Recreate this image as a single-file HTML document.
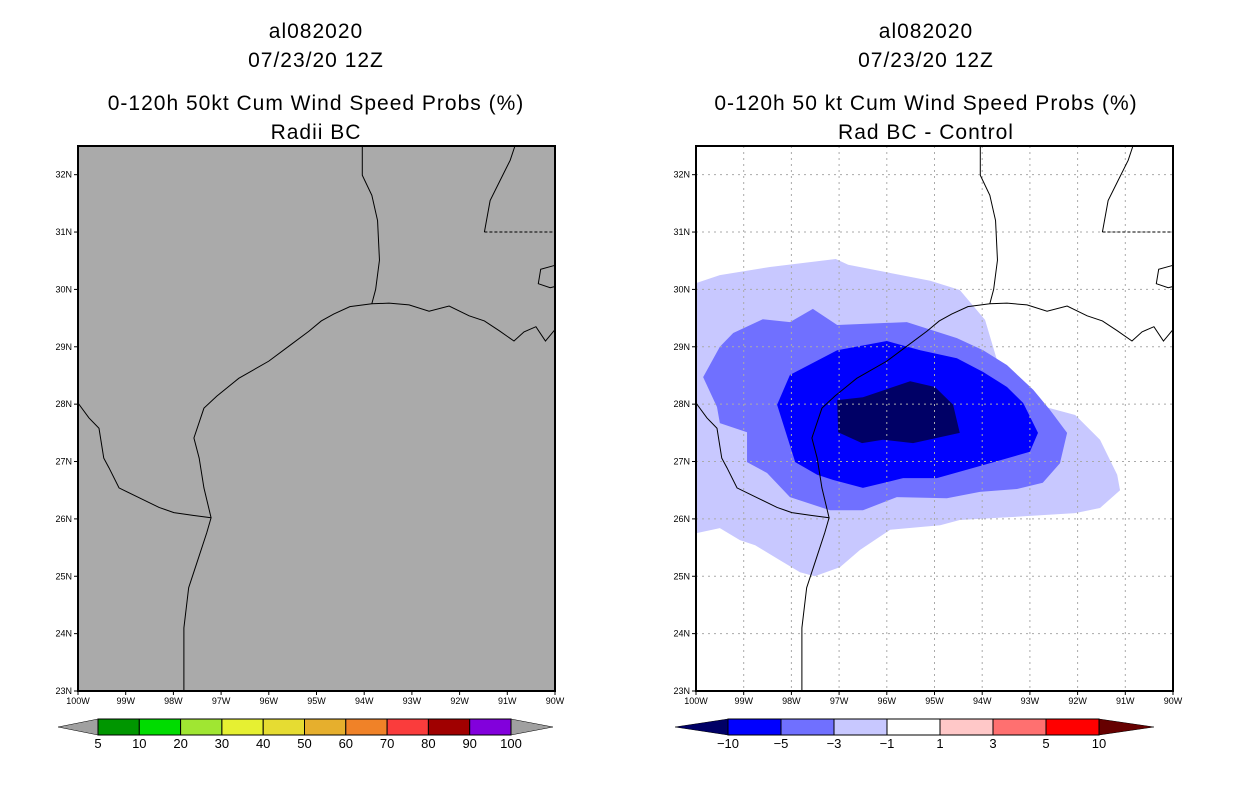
<!DOCTYPE html>
<html><head><meta charset="utf-8"><style>
html,body{margin:0;padding:0;background:#fff;width:1236px;height:800px;overflow:hidden}
svg{display:block}
text{font-family:"Liberation Sans",sans-serif;fill:#000}
.t{font-size:21px;text-anchor:middle;letter-spacing:1px}
.ax{font-size:9px}
.cb{font-size:13px;text-anchor:middle}
</style></head><body>
<svg id="fig" width="1236" height="800" viewBox="0 0 1236 800">
<g>
<text class="t" x="316" y="38">al082020</text>
<text class="t" x="316" y="67">07/23/20 12Z</text>
<text class="t" x="316" y="110">0-120h 50kt Cum Wind Speed Probs (%)</text>
<text class="t" x="316" y="139">Radii BC</text>
</g>
<g>
<text class="t" x="926" y="38">al082020</text>
<text class="t" x="926" y="67">07/23/20 12Z</text>
<text class="t" x="926" y="110">0-120h 50 kt Cum Wind Speed Probs (%)</text>
<text class="t" x="926" y="139">Rad BC - Control</text>
</g>
<g id="left"></g>
<g id="right"></g>
<g id="cbl"></g>
<g id="cbr"></g>
</svg>
<script>
// ---- data ----
const lonTicks=[-100,-99,-98,-97,-96,-95,-94,-93,-92,-91,-90];
const latTicks=[23,24,25,26,27,28,29,30,31,32];
// difference contour polygons (lon, lat)
const lvlMinus1=[[-100,30.11],[-99.5,30.25],[-98.45,30.39],[-97.07,30.53],[-96.81,30.43],[-95.09,30.15],[-94.47,29.99],[-93.94,29.47],[-93.63,28.6],[-93.21,28.07],[-92.05,27.81],[-91.53,27.38],[-91.17,26.77],[-91.11,26.5],[-91.53,26.19],[-92.05,26.1],[-93.42,26.03],[-94.47,25.98],[-94.88,25.89],[-95.93,25.81],[-96.56,25.46],[-96.98,25.16],[-97.51,25.0],[-97.82,25.07],[-98.24,25.28],[-98.76,25.54],[-99.08,25.63],[-99.5,25.84],[-100,25.75]];
const lvlMinus3=[[-92.22,27.5],[-92.37,26.97],[-92.73,26.63],[-93.27,26.52],[-94.05,26.47],[-94.74,26.36],[-95.79,26.38],[-96.5,26.15],[-97.19,26.15],[-98.03,26.38],[-98.51,26.8],[-98.93,26.99],[-98.93,27.51],[-99.5,27.67],[-99.56,27.95],[-99.85,28.47],[-99.5,29.0],[-99.22,29.24],[-98.6,29.48],[-98.03,29.43],[-97.55,29.66],[-97.04,29.38],[-95.58,29.43],[-94.53,29.15],[-93.98,28.94],[-93.48,28.68],[-92.93,28.25],[-92.58,27.9]];
const lvlMinus5=[[-92.83,27.5],[-93.0,27.17],[-93.84,26.97],[-94.95,26.71],[-95.66,26.71],[-96.5,26.54],[-97.13,26.68],[-97.46,26.77],[-97.92,26.99],[-98.3,27.99],[-98.03,28.51],[-97.04,28.94],[-96.0,29.1],[-95.3,28.94],[-94.53,28.8],[-93.98,28.56],[-93.48,28.3],[-93.14,28.02]];
const lvlMinus10=[[-94.47,27.5],[-94.61,27.99],[-94.99,28.3],[-95.51,28.4],[-96.5,28.12],[-97.04,28.07],[-97.02,27.51],[-96.52,27.32],[-96.08,27.38],[-95.45,27.32]];
const leftBarLabels=["5","10","20","30","40","50","60","70","80","90","100"];
const leftBarColors=["#009600","#00dc00","#a0e632","#e6f032","#e6dc32","#e6af2d","#f08228","#fa3c3c","#a00000","#8200dc"];
const rightBarLabels=["-10","-5","-3","-1","1","3","5","10"];
const rightBarColors=["#0000ff","#7070ff","#c8c8ff","#ffffff","#ffc8c8","#ff7070","#ff0000"];
// basemap coastline / borders (lon, lat)
const coast=[[-97.78,23],[-97.78,24.1],[-97.68,24.8],[-97.47,25.33],[-97.3,25.76],[-97.21,26.02],[-97.36,26.54],[-97.46,27.06],[-97.57,27.41],[-97.36,27.93],[-97.09,28.14],[-96.63,28.45],[-96.0,28.75],[-95.58,29.01],[-95.16,29.27],[-94.9,29.45],[-94.64,29.57],[-94.3,29.7],[-93.84,29.75],[-93.48,29.76],[-93.06,29.73],[-92.64,29.62],[-92.22,29.71],[-91.8,29.54],[-91.48,29.45],[-91.17,29.28],[-90.86,29.1],[-90.65,29.26],[-90.4,29.35],[-90.2,29.1],[-90,29.3]];
const rioGrande=[[-97.21,26.02],[-97.57,26.06],[-97.99,26.11],[-98.3,26.2],[-98.72,26.37],[-99.14,26.54],[-99.35,26.89],[-99.46,27.06],[-99.56,27.58],[-99.77,27.76],[-100,28.02]];
const sabine=[[-94.04,32.5],[-94.04,31.99],[-93.84,31.64],[-93.72,31.2],[-93.68,30.51],[-93.76,30.0],[-93.84,29.75]];
const msBorder=[[-90.84,32.5],[-90.94,32.25],[-91.15,31.9],[-91.36,31.55],[-91.48,31.0]];
const msDash=[[-91.48,31.0],[-90,31.0]];
const lake=[[-90,30.42],[-90.3,30.35],[-90.35,30.1],[-90.1,30.03],[-90,30.05]];
// ---- helpers ----
const NS='http://www.w3.org/2000/svg';
function mk(tag,attrs,parent){const e=document.createElementNS(NS,tag);for(const k in attrs)e.setAttribute(k,attrs[k]);parent.appendChild(e);return e;}
function panel(g,x0,grid,gray){
  const X=lon=>x0+(lon+100)*47.7, Y=lat=>691-(lat-23)*57.37;
  const bg=mk('rect',{x:x0,y:146,width:477,height:545,fill:gray?'#aaaaaa':'#ffffff'},g);
  
  
  const cg=mk('g',{},g);
  
  
  if(!gray){
    [[lvlMinus1,'#c8c8ff','contour-minus1'],[lvlMinus3,'#7070ff','contour-minus3'],[lvlMinus5,'#0000ff','contour-minus5'],[lvlMinus10,'#000066','contour-minus10']].forEach(([p,c,n])=>{
      const e=mk('polygon',{points:p.map(q=>X(q[0])+','+Y(q[1])).join(' '),fill:c},cg);
      
      
    });
  }
  if(grid){
    const gg=mk('g',{stroke:'#aaaaaa','stroke-width':1,'stroke-dasharray':'2,4'},g);
    
    
    lonTicks.slice(1,-1).forEach(l=>mk('line',{x1:X(l),x2:X(l),y1:146,y2:691},gg));
    latTicks.slice(1).forEach(l=>mk('line',{x1:x0,x2:x0+477,y1:Y(l),y2:Y(l)},gg));
  }
  const mg=mk('g',{fill:'none',stroke:'#000','stroke-width':1},g);
  
  
  [coast,rioGrande,sabine,msBorder,lake].forEach(p=>mk('polyline',{points:p.map(q=>X(q[0])+','+Y(q[1])).join(' ')},mg));
  mk('polyline',{points:msDash.map(q=>X(q[0])+','+Y(q[1])).join(' '),'stroke-dasharray':'3,2'},mg);
  const fr=mk('rect',{x:x0,y:146,width:477,height:545,fill:'none',stroke:'#000','stroke-width':2},g);
  
  
  const ag=mk('g',{},g);
  
  
  latTicks.forEach(l=>{
    mk('line',{x1:x0-4,x2:x0,y1:Y(l),y2:Y(l),stroke:'#000'},ag);
    const t=mk('text',{x:x0-6,y:Y(l)+3,class:'ax','text-anchor':'end'},ag);t.textContent=l+'N';
  });
  lonTicks.forEach(l=>{
    mk('line',{x1:X(l),x2:X(l),y1:691,y2:695,stroke:'#000'},ag);
    const t=mk('text',{x:X(l),y:704,class:'ax','text-anchor':'middle'},ag);t.textContent=(-l)+'W';
  });
}
panel(document.getElementById('left'),78,false,true);
panel(document.getElementById('right'),696,true,false);
function bar(g,x0,x1,tipL,tipR,colors,labels,lc,rc){
  const n=colors.length,w=(x1-x0)/n,y0=719,y1=735;
  const a=mk('polygon',{points:`${tipL},${(y0+y1)/2} ${x0},${y0} ${x0},${y1}`,fill:lc,stroke:'#000','stroke-width':0.5},g);
  
  
  const b=mk('polygon',{points:`${tipR},${(y0+y1)/2} ${x1},${y0} ${x1},${y1}`,fill:rc,stroke:'#000','stroke-width':0.5},g);
  
  
  colors.forEach((c,i)=>{
    const r=mk('rect',{x:x0+i*w,y:y0,width:w,height:y1-y0,fill:c,stroke:'#000','stroke-width':1},g);
    
    
  });
  labels.forEach((s,i)=>{
    const t=mk('text',{x:x0+i*w,y:748,class:'cb'},g);t.textContent=s.replace('-','\u2212');
    
    
  });
}
bar(document.getElementById('cbl'),98,511,58,553,leftBarColors,leftBarLabels,'#a0a0a0','#a0a0a0');
bar(document.getElementById('cbr'),728,1099,675,1154,rightBarColors,rightBarLabels,'#000066','#660000');
</script>
</body></html>
